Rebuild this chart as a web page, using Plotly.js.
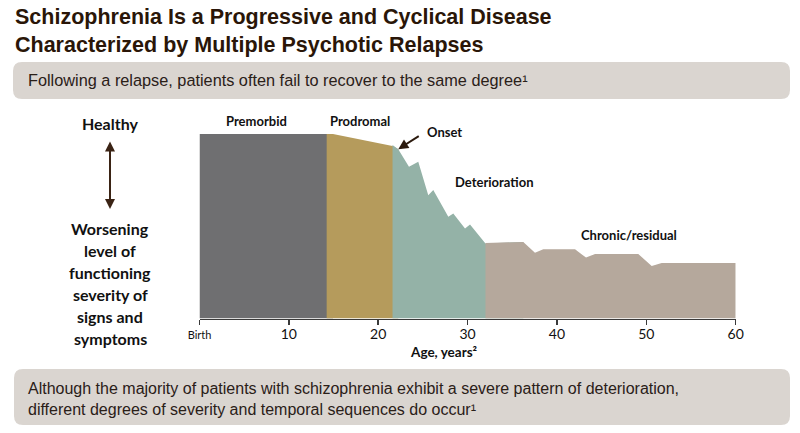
<!DOCTYPE html>
<html>
<head>
<meta charset="utf-8">
<script src="https://cdn.plot.ly/plotly-3.0.1.min.js"></script>
<style>
  html, body { margin: 0; padding: 0; background: #ffffff; }
  #chart { width: 800px; height: 433px; }
</style>
</head>
<body>
<div id="chart"></div>
<script>
// Disease course: level of functioning (100 = healthy baseline) against age in years
const premorbidAge = [0, 14.23];
const premorbidLevel = [100, 100];

const prodromalAge = [14.23, 14.94, 21.6];
const prodromalLevel = [100, 100, 93.5];

const deteriorationAge = [21.6, 22.24, 23.44, 24.48, 25.6, 26.16, 27.84, 28.4, 29.71, 30.27, 32.0];
const deteriorationLevel = [94.0, 91.8, 82.2, 84.9, 66.8, 69.6, 55.1, 56.9, 48.8, 50.9, 40.6];

const chronicAge = [32.0, 36.23, 37.54, 38.47, 42.02, 43.25, 44.26, 49.1, 50.6, 51.72, 60];
const chronicLevel = [40.9, 41.5, 35.7, 37.5, 37.5, 33.0, 34.9, 34.9, 28.4, 30.1, 30.1];

const tickValues = [0, 10, 20, 30, 40, 50, 60];
const tickLabels = ['<span style="font-size:11px">Birth</span>', '10', '20', '30', '40', '50', '60'];

const phaseNames = ['Premorbid', 'Prodromal', 'Onset', 'Deterioration', 'Chronic/residual'];

const titleText = 'Schizophrenia Is a Progressive and Cyclical Disease<br>Characterized by Multiple Psychotic Relapses';
const topNote = 'Following a relapse, patients often fail to recover to the same degree¹';
const bottomNote = 'Although the majority of patients with schizophrenia exhibit a severe pattern of deterioration,<br>different degrees of severity and temporal sequences do occur¹';
const scaleTop = 'Healthy';
const scaleBottom = ['Worsening', 'level of', 'functioning', 'severity of', 'signs and', 'symptoms'];
const axisTitle = 'Age, years²';

// page pixel -> paper fraction helpers
const W = 800, H = 433;
const px = x => x / W;
const py = y => 1 - y / H;

function roundedBox(x0, y0, x1, y1, r) {
  const p = (x, y) => px(x) + ',' + py(y);
  return 'M' + p(x0 + r, y0) + ' L' + p(x1 - r, y0) + ' Q' + p(x1, y0) + ' ' + p(x1, y0 + r) +
    ' L' + p(x1, y1 - r) + ' Q' + p(x1, y1) + ' ' + p(x1 - r, y1) +
    ' L' + p(x0 + r, y1) + ' Q' + p(x0, y1) + ' ' + p(x0, y1 - r) +
    ' L' + p(x0, y0 + r) + ' Q' + p(x0, y0) + ' ' + p(x0 + r, y0) + ' Z';
}

// each phase area runs one point into the next phase so the later fill covers the seam
const area = (x, y, nextX, nextY, color, name) => ({
  type: 'scatter', mode: 'lines',
  x: nextX === null ? x : x.concat([nextX]),
  y: nextY === null ? y : y.concat([nextY]),
  name: name,
  fill: 'tozeroy', fillcolor: color, line: { width: 0, color: color },
  hoverinfo: 'skip', showlegend: false
});

const traces = [
  area(premorbidAge, premorbidLevel, prodromalAge[1], prodromalLevel[1], '#6f6f71', phaseNames[0]),
  area(prodromalAge, prodromalLevel, deteriorationAge[1], deteriorationLevel[1], '#b59b5c', phaseNames[1]),
  area(deteriorationAge, deteriorationLevel, chronicAge[1], chronicLevel[1], '#94b2a7', phaseNames[3]),
  area(chronicAge, chronicLevel, null, null, '#b5a89c', phaseNames[4])
];

const labelFont = { family: 'Lato, Noto Sans, sans-serif', size: 13, color: '#111111', weight: 700 };
const sideFont = { family: 'Lato, Noto Sans, sans-serif', size: 16, color: '#111111', weight: 700 };
const noteFont = { family: 'Liberation Sans, Arial, sans-serif', size: 16.3, color: '#2a2018' };

const annotations = [];
function textAt(x, y, text, font, anchor) {
  annotations.push({
    xref: 'paper', yref: 'paper', x: px(x), y: py(y), text: text, showarrow: false,
    xanchor: anchor || 'center', yanchor: 'middle', font: font, align: anchor === 'left' ? 'left' : 'center'
  });
}

// title and notes
textAt(13, 31, titleText, { family: 'Liberation Sans, Arial, sans-serif', size: 21.5, color: '#2a1608', weight: 700 }, 'left');
textAt(26, 80, topNote, noteFont, 'left');
textAt(26, 399, bottomNote, { family: 'Liberation Sans Narrow, Liberation Sans, Arial, sans-serif', size: 16, color: '#2a2018' }, 'left');

// scale on the left
textAt(110, 124, scaleTop, sideFont);
scaleBottom.forEach((line, i) => textAt(110, 228.5 + i * 22, line, sideFont));
annotations.push({
  xref: 'paper', yref: 'paper', x: px(110), y: py(209), ax: 0, ay: -69,
  text: '', showarrow: true, arrowside: 'end+start', arrowhead: 2, arrowsize: 1,
  arrowwidth: 2, arrowcolor: '#3a2314'
});

// phase labels
textAt(256, 121, phaseNames[0], labelFont);
textAt(360, 121, phaseNames[1], labelFont);
textAt(444.5, 132, phaseNames[2], labelFont);
textAt(494, 182, phaseNames[3], labelFont);
textAt(628.5, 235, phaseNames[4], labelFont);

// arrow pointing at the onset of psychosis
annotations.push({
  xref: 'x', yref: 'y', x: deteriorationAge[1], y: deteriorationLevel[1],
  ax: 22, ay: -14, text: '', showarrow: true,
  arrowhead: 2, arrowsize: 1, arrowwidth: 2, arrowcolor: '#2b1a0e'
});

// x axis title
textAt(444, 352, axisTitle, { family: 'Lato, Noto Sans, sans-serif', size: 13.5, color: '#111111', weight: 700 });

const layout = {
  width: W, height: H,
  margin: { l: 0, r: 0, t: 0, b: 0 },
  paper_bgcolor: '#ffffff', plot_bgcolor: 'rgba(0,0,0,0)',
  showlegend: false,
  xaxis: {
    domain: [px(199.5), px(735.7)], range: [0, 60], fixedrange: true,
    tickvals: tickValues, ticktext: tickLabels,
    showgrid: false, zeroline: false, showline: true,
    linecolor: '#3a3a3a', linewidth: 1.5,
    ticks: 'outside', ticklen: 5, tickwidth: 1.5, tickcolor: '#3a3a3a',
    ticklabelstandoff: -3,
    tickfont: { family: 'Lato, Noto Sans, sans-serif', size: 14, color: '#111111' }
  },
  yaxis: {
    domain: [(H - 318.5) / H, (H - 134) / H], range: [0, 100], fixedrange: true,
    visible: false
  },
  shapes: [
    { type: 'path', xref: 'paper', yref: 'paper', path: roundedBox(13, 62, 790, 99, 9), fillcolor: '#dad5d0', line: { width: 0 }, layer: 'below' },
    { type: 'path', xref: 'paper', yref: 'paper', path: roundedBox(14, 369, 790, 425, 9), fillcolor: '#dad5d0', line: { width: 0 }, layer: 'below' }
  ],
  annotations: annotations
};

Plotly.newPlot('chart', traces, layout, { staticPlot: true, displayModeBar: false });
</script>
</body>
</html>
